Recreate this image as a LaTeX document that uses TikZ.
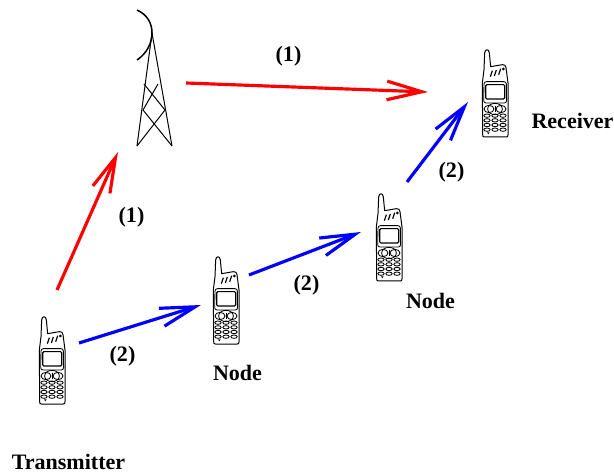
\documentclass[tikz,border=0pt]{standalone}
\usepackage{fontspec}
\setmainfont{Liberation Serif}
\usetikzlibrary{arrows.meta}
\definecolor{hoplred}{HTML}{FF0000}
\definecolor{hopblue}{HTML}{0000FF}
\tikzset{
  >={Straight Barb[length=10.5mm,width=5.6mm]},
  directlink/.style={->,draw=hoplred,line width=.95mm},
  relaylink/.style={->,draw=hopblue,line width=.95mm},
  caption/.style={font=\fontsize{18.8}{20}\selectfont\bfseries,inner sep=0pt},
  handset/.pic={
    \begin{scope}[x=.1mm,y=-.1mm,shift={(-96,-180)},line width=.25mm]
      % Outline with antenna stub.
      \draw[line width=.3mm,line join=round] (64,312) .. controls (60,312) and (59,310) .. (59,305) -- (58,150) -- (63,110) -- (65,60) .. controls (66,47) and (78,47) .. (79,60) -- (83,101) -- (118,95) .. controls (125,94) and (128,98) .. (129,104) -- (135,150) -- (135,305) .. controls (135,310) and (134,312) .. (130,312) -- cycle;
      \draw[rounded corners=2pt] (63,146) -- (130,146) -- (131,210) -- (62,210) -- cycle;
      \draw[line width=.35mm,rounded corners=1pt] (68,155) rectangle (125,198);
      % Signal ticks.
      \foreach \tickx/\ticky in {85/122,97/120,110/116}
        \draw[line width=.35mm] (\tickx-3,\ticky+9) -- (\tickx+3,\ticky-9);
      \fill (121,108) circle (.45mm);
      % Keypad.
      \draw (96,228) ellipse (2.2mm and 1.7mm);
      \draw (96,218) -- (96,238);
      \draw (78,228) ellipse (1.5mm and 1.1mm);
      \draw (114,228) ellipse (1.5mm and 1.1mm);
      \foreach \keyrow in {248,262,276,290}
        \foreach \keycol in {72,96,120}
          \draw (\keycol,\keyrow) ellipse (.95mm and .5mm);
      \fill (76,304) -- (72,298) -- (80,298) -- cycle;
    \end{scope}
  },
}
\begin{document}
\begin{tikzpicture}[x=.3mm,y=-.3mm]
  \useasboundingbox (0,0) rectangle (614,473);

  % Mast with dish.
  \draw[line width=.3mm] (137,146) -- (152,33) -- (172,146);
  \draw[line width=.3mm] (158,84) -- (143,110) -- (172,146);
  \draw[line width=.3mm] (144,84) -- (165,110) -- (137,146);
  \draw[line width=.45mm] (137,10) .. controls (148,15) and (152,24) .. (152,33) .. controls (152,44) and (146,54) .. (137,60);

  % Handsets.
  \pic (sender) at (52,360) {handset};
  \pic (relaya) at (226,300) {handset};
  \pic (relayb) at (389,237) {handset};
  \pic (sink) at (495,93) {handset};

  % Link ends.
  \coordinate (senderup) at (57,290);
  \coordinate (mastin) at (118,152);
  \coordinate (mastout) at (186,83);
  \coordinate (sinkleft) at (428,92);
  \coordinate (senderright) at (79,343);
  \coordinate (relayain) at (201,305);
  \coordinate (relayaout) at (249,275);
  \coordinate (relaybin) at (361,232);
  \coordinate (relaybout) at (407,182);
  \coordinate (sinkin) at (468,102);

  \draw[directlink] (senderup) -- (mastin);
  \draw[directlink] (mastout) -- (sinkleft);
  \draw[relaylink] (senderright) -- (relayain);
  \draw[relaylink] (relayaout) -- (relaybin);
  \draw[relaylink] (relaybout) -- (sinkin);

  % Hop numbers and names.
  \node[caption] (hopa) at (288.5,56) {(1)};
  \node[caption] (hopb) at (131.5,217) {(1)};
  \node[caption] (hopc) at (122.5,356) {(2)};
  \node[caption] (hopd) at (306.5,285) {(2)};
  \node[caption] (hope) at (451.5,172) {(2)};
  \node[caption] (senderlabel) at (68.5,462) {Transmitter};
  \node[caption] (relayalabel) at (237.5,373) {Node};
  \node[caption] (relayblabel) at (430.5,301) {Node};
  \node[caption] (sinklabel) at (572.5,121) {Receiver};
\end{tikzpicture}
\end{document}
